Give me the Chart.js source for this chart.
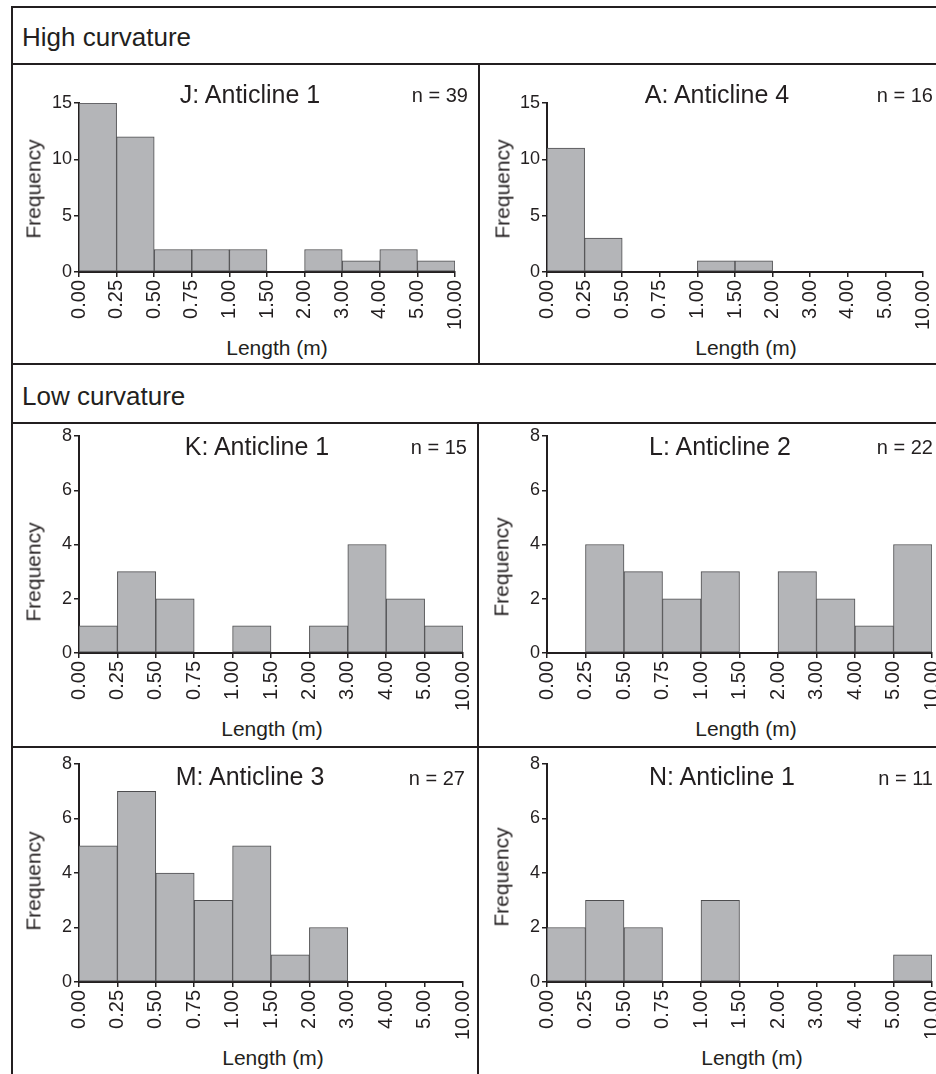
<!DOCTYPE html>
<html>
<head>
<meta charset="utf-8">
<script src="https://cdn.jsdelivr.net/npm/chart.js@4.4.0/dist/chart.umd.min.js"></script>
<style>
    body { margin: 0; background: #fff; width: 936px; height: 1074px; overflow: hidden; position: relative;
           font-family: "Liberation Sans", Arial, sans-serif; color: #231f20; }
    .ln { position: absolute; background: #231f20; }
    .txt { position: absolute; white-space: nowrap; line-height: 1; }
    canvas { position: absolute; }
</style>
</head>
<body>
<script>
// bin edges shown under each histogram
const edgeLabels = ['0.00', '0.25', '0.50', '0.75', '1.00', '1.50', '2.00', '3.00', '4.00', '5.00', '10.00'];

// counts per bin (10 bins between the 11 edges)
const countsJ = [15, 12, 2, 2, 2, 0, 2, 1, 2, 1];
const countsA = [11, 3, 0, 0, 1, 1, 0, 0, 0, 0];
const countsK = [1, 3, 2, 0, 1, 0, 1, 4, 2, 1];
const countsL = [0, 4, 3, 2, 3, 0, 3, 2, 1, 4];
const countsM = [5, 7, 4, 3, 5, 1, 2, 0, 0, 0];
const countsN = [2, 3, 2, 0, 3, 0, 0, 0, 0, 1];

const panelTitles = ['J: Anticline 1', 'A: Anticline 4', 'K: Anticline 1', 'L: Anticline 2', 'M: Anticline 3', 'N: Anticline 1'];
const panelN = [39, 16, 15, 22, 27, 11];
const panelCounts = [countsJ, countsA, countsK, countsL, countsM, countsN];
const yMaxHigh = 15, yStepHigh = 5;
const yMaxLow = 8, yStepLow = 2;

const INK = '#231f20';

// page geometry of each panel (plot area + label anchors)
const layout = [
    { xL: 79,  xR: 455, yT: 103, y0: 272, tX: 250, tY: 94,  nR: 468, nY: 95,  fX: 33,  fY: 189, lX: 277, high: true },
    { xL: 547, xR: 923, yT: 103, y0: 272, tX: 717, tY: 94,  nR: 933, nY: 95,  fX: 502, fY: 189, lX: 746, high: true },
    { xL: 79,  xR: 463, yT: 436, y0: 653, tX: 257, tY: 446, nR: 467, nY: 447, fX: 33,  fY: 572, lX: 272 },
    { xL: 547, xR: 932, yT: 436, y0: 653, tX: 720, tY: 446, nR: 933, nY: 447, fX: 501, fY: 567, lX: 746 },
    { xL: 79,  xR: 463, yT: 764, y0: 982, tX: 250, tY: 776, nR: 465, nY: 778, fX: 33,  fY: 881, lX: 273 },
    { xL: 547, xR: 932, yT: 764, y0: 982, tX: 722, tY: 776, nR: 933, nY: 778, fX: 501, fY: 877, lX: 752 }
];

function line(x, y, w, h) {
    const d = document.createElement('div');
    d.className = 'ln';
    d.style.cssText = `left:${x}px;top:${y}px;width:${w}px;height:${h}px`;
    document.body.appendChild(d);
}

function text(str, x, y, size, transform) {
    const d = document.createElement('div');
    d.className = 'txt';
    d.textContent = str;
    d.style.cssText = `left:${x}px;top:${y}px;font-size:${size}px;transform:${transform}`;
    document.body.appendChild(d);
}

// frame
line(11, 6, 930, 2);
line(11, 6, 2, 1080);
line(11, 63, 930, 2);
line(11, 363, 930, 2);
line(11, 422, 930, 2);
line(11, 746, 930, 2);
line(478, 63, 2, 301);
line(477, 422, 2, 660);

text('High curvature', 22, 37, 26, 'translateY(-50%)');
text('Low curvature', 22, 396, 26, 'translateY(-50%)');

const PAD_L = 50, PAD_R = 30, PAD_T = 14, PAD_B = 62;

layout.forEach((p, idx) => {
    const counts = panelCounts[idx];
    const canvas = document.createElement('canvas');
    const w = p.xR - p.xL + PAD_L + PAD_R;
    const h = p.y0 - p.yT + PAD_T + PAD_B;
    canvas.width = w;
    canvas.height = h;
    canvas.style.left = (p.xL - PAD_L) + 'px';
    canvas.style.top = (p.yT - PAD_T) + 'px';
    canvas.style.width = w + 'px';
    canvas.style.height = h + 'px';
    document.body.appendChild(canvas);

    const points = [];
    counts.forEach((c, i) => { if (c > 0) points.push({ x: i + 0.5, y: c }); });

    new Chart(canvas.getContext('2d'), {
        type: 'bar',
        data: {
            datasets: [{
                data: points,
                backgroundColor: '#b4b5b8',
                borderColor: '#4d4d4f',
                borderWidth: 1,
                borderSkipped: false,
                barPercentage: 1,
                categoryPercentage: 1
            }]
        },
        options: {
            responsive: false,
            devicePixelRatio: 1,
            animation: false,
            layout: { padding: { left: 0, right: PAD_R, top: PAD_T, bottom: 0 } },
            plugins: { legend: { display: false }, tooltip: { enabled: false } },
            scales: {
                x: {
                    type: 'linear',
                    min: 0,
                    max: edgeLabels.length - 1,
                    offset: false,
                    z: 1,
                    afterFit: (s) => { s.height = PAD_B; },
                    border: { display: true, color: INK, width: 2 },
                    grid: { display: true, offset: false, drawOnChartArea: false, tickLength: 5, color: INK, lineWidth: 1.5 },
                    ticks: {
                        stepSize: 1,
                        autoSkip: false,
                        minRotation: 90,
                        maxRotation: 90,
                        padding: 3,
                        color: INK,
                        font: { family: '"Liberation Sans", Arial, sans-serif', size: 20 },
                        callback: (v) => edgeLabels[v]
                    }
                },
                y: {
                    min: 0,
                    max: p.high ? yMaxHigh : yMaxLow,
                    z: 1,
                    afterFit: (s) => { s.width = PAD_L; },
                    border: { display: true, color: INK, width: 2 },
                    grid: { display: true, drawOnChartArea: false, tickLength: 5, color: INK, lineWidth: 1.5 },
                    ticks: {
                        stepSize: p.high ? yStepHigh : yStepLow,
                        padding: 2,
                        color: INK,
                        font: { family: '"Liberation Sans", Arial, sans-serif', size: 18 }
                    }
                }
            }
        }
    });

    text(panelTitles[idx], p.tX, p.tY, 25, 'translate(-50%,-50%)');
    text('n = ' + panelN[idx], p.nR, p.nY, 20, 'translate(-100%,-50%)');
    text('Frequency', p.fX, p.fY, 21, 'translate(-50%,-50%) rotate(-90deg)');
    text('Length (m)', p.lX, p.y0 + 75, 21, 'translate(-50%,-50%)');
});
</script>
</body>
</html>
